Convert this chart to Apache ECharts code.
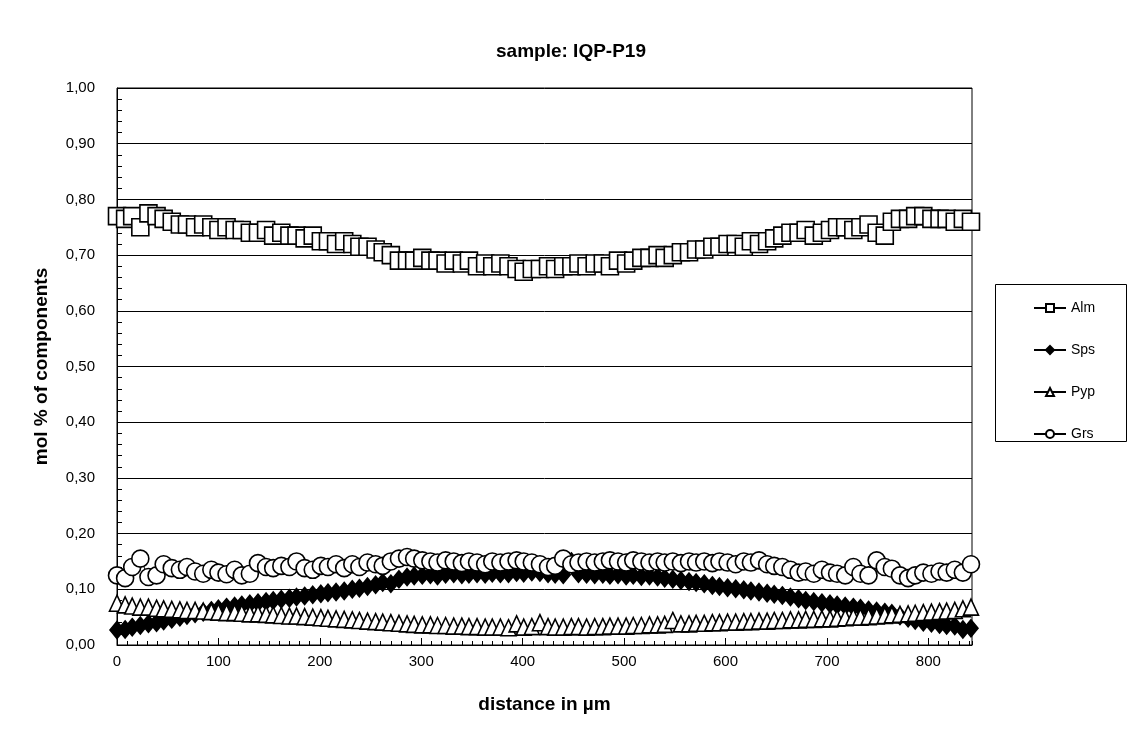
<!DOCTYPE html>
<html>
<head>
<meta charset="utf-8">
<script src="https://cdn.jsdelivr.net/npm/echarts@6/dist/echarts.min.js"></script>
<style>
html,body{margin:0;padding:0;background:#fff;}
#chart{width:1128px;height:733px;}
</style>
</head>
<body>
<div id="chart"></div>
<script>
const seriesNames = ['Alm', 'Sps', 'Pyp', 'Grs'];

const distance = [
  0, 8, 15, 23, 31, 39, 46, 54, 62, 69,
  77, 85, 93, 100, 108, 116, 123, 131, 139, 147,
  154, 162, 170, 177, 185, 193, 201, 208, 216, 224,
  232, 239, 247, 255, 262, 270, 278, 286, 293, 301,
  309, 316, 324, 332, 340, 347, 355, 363, 370, 378,
  386, 394, 401, 409, 417, 425, 432, 440, 448, 455,
  463, 471, 479, 486, 494, 502, 509, 517, 525, 533,
  540, 548, 556, 564, 571, 579, 587, 594, 602, 610,
  618, 625, 633, 641, 648, 656, 664, 672, 679, 687,
  695, 703, 710, 718, 726, 733, 741, 749, 757, 764,
  772, 780, 787, 795, 803, 811, 818, 826, 834, 842
];

const alm = [
  0.770, 0.765, 0.770, 0.750, 0.775, 0.770, 0.765, 0.760, 0.755, 0.755,
  0.750, 0.755, 0.750, 0.745, 0.750, 0.745, 0.745, 0.740, 0.740, 0.745,
  0.735, 0.740, 0.735, 0.735, 0.730, 0.735, 0.725, 0.725, 0.720, 0.725,
  0.720, 0.715, 0.715, 0.710, 0.705, 0.700, 0.690, 0.690, 0.690, 0.695,
  0.690, 0.690, 0.685, 0.690, 0.685, 0.690, 0.680, 0.685, 0.680, 0.685,
  0.680, 0.675, 0.670, 0.675, 0.675, 0.680, 0.675, 0.680, 0.680, 0.685,
  0.680, 0.685, 0.685, 0.680, 0.690, 0.685, 0.690, 0.695, 0.695, 0.700,
  0.695, 0.700, 0.705, 0.705, 0.710, 0.710, 0.715, 0.715, 0.720, 0.720,
  0.715, 0.725, 0.720, 0.725, 0.730, 0.735, 0.740, 0.740, 0.745, 0.735,
  0.740, 0.745, 0.750, 0.750, 0.745, 0.750, 0.755, 0.740, 0.735, 0.760,
  0.765, 0.765, 0.770, 0.770, 0.765, 0.765, 0.765, 0.760, 0.765, 0.760
];

const sps = [
  0.027, 0.028, 0.032, 0.035, 0.038, 0.040, 0.043, 0.046, 0.050, 0.053,
  0.056, 0.059, 0.062, 0.065, 0.068, 0.070, 0.072, 0.074, 0.076, 0.078,
  0.080, 0.082, 0.084, 0.086, 0.088, 0.090, 0.092, 0.094, 0.095, 0.097,
  0.100, 0.102, 0.105, 0.108, 0.112, 0.110, 0.118, 0.122, 0.124, 0.125,
  0.126, 0.124, 0.127, 0.128, 0.126, 0.127, 0.128, 0.127, 0.129, 0.128,
  0.128, 0.130, 0.129, 0.131, 0.130, 0.128, 0.127, 0.126, 0.150, 0.128,
  0.127, 0.126, 0.127, 0.125, 0.126, 0.124, 0.125, 0.123, 0.124, 0.122,
  0.120, 0.118, 0.116, 0.114, 0.112, 0.110, 0.107, 0.105, 0.103, 0.101,
  0.099, 0.097, 0.095, 0.093, 0.091, 0.089, 0.086, 0.083, 0.080, 0.078,
  0.076, 0.074, 0.072, 0.070, 0.068, 0.066, 0.063, 0.061, 0.059, 0.057,
  0.052, 0.048, 0.044, 0.041, 0.039, 0.037, 0.035, 0.034, 0.028, 0.030
];

const pyp = [
  0.075, 0.072, 0.070, 0.068, 0.068, 0.066, 0.065, 0.064, 0.063, 0.062,
  0.062, 0.061, 0.060, 0.059, 0.058, 0.058, 0.057, 0.056, 0.056, 0.055,
  0.054, 0.053, 0.052, 0.052, 0.051, 0.050, 0.049, 0.048, 0.047, 0.046,
  0.045, 0.044, 0.043, 0.042, 0.041, 0.040, 0.039, 0.038, 0.037, 0.036,
  0.036, 0.035, 0.035, 0.034, 0.034, 0.033, 0.033, 0.032, 0.032, 0.032,
  0.031, 0.038, 0.032, 0.033, 0.040, 0.033, 0.032, 0.032, 0.033, 0.033,
  0.032, 0.033, 0.033, 0.034, 0.034, 0.034, 0.035, 0.035, 0.036, 0.036,
  0.037, 0.044, 0.038, 0.038, 0.039, 0.039, 0.040, 0.040, 0.041, 0.041,
  0.042, 0.042, 0.043, 0.043, 0.044, 0.044, 0.045, 0.045, 0.046, 0.046,
  0.047, 0.047, 0.048, 0.049, 0.050, 0.050, 0.051, 0.052, 0.053, 0.054,
  0.055, 0.056, 0.057, 0.058, 0.059, 0.060, 0.061, 0.062, 0.065, 0.068
];

const grs = [
  0.125, 0.120, 0.140, 0.155, 0.122, 0.125, 0.145, 0.138, 0.135, 0.140,
  0.132, 0.128, 0.135, 0.130, 0.127, 0.135, 0.125, 0.128, 0.147, 0.140,
  0.138, 0.142, 0.140, 0.150, 0.138, 0.135, 0.142, 0.140, 0.145, 0.138,
  0.145, 0.140, 0.148, 0.145, 0.142, 0.150, 0.155, 0.158, 0.155, 0.152,
  0.150, 0.148, 0.152, 0.150, 0.147, 0.150, 0.148, 0.145, 0.150, 0.148,
  0.150, 0.152, 0.150, 0.148, 0.145, 0.140, 0.142, 0.155, 0.145, 0.148,
  0.150, 0.148, 0.150, 0.152, 0.150, 0.148, 0.152, 0.150, 0.148, 0.150,
  0.148, 0.150, 0.147, 0.150, 0.148, 0.150, 0.147, 0.150, 0.148, 0.145,
  0.150, 0.148, 0.152, 0.145, 0.142, 0.140, 0.135, 0.130, 0.132, 0.128,
  0.135, 0.130, 0.128, 0.125, 0.140, 0.128, 0.125, 0.152, 0.140, 0.137,
  0.125, 0.120, 0.125, 0.130, 0.128, 0.132, 0.130, 0.135, 0.130, 0.145
];

const FONT = '"Liberation Sans", Arial, sans-serif';
const chart = echarts.init(document.getElementById('chart'), null, {renderer: 'canvas'});

function pairs(vals) { return distance.map((d, i) => [d, vals[i]]); }

const markerStyles = {
  Alm: {symbol: 'rect', symbolSize: 17, color: '#fff'},
  Sps: {symbol: 'diamond', symbolSize: [14, 17], color: '#000'},
  Pyp: {symbol: 'triangle', symbolSize: [15, 16], color: '#fff'},
  Grs: {symbol: 'circle', symbolSize: 17, color: '#fff'}
};
const valuesByName = {Alm: alm, Sps: sps, Pyp: pyp, Grs: grs};

const option = {
  animation: false,
  backgroundColor: '#fff',
  title: {
    text: 'sample: IQP-P19',
    left: 566, top: 37, textAlign: 'center',
    textStyle: {fontFamily: FONT, fontSize: 19, fontWeight: 'bold', color: '#000'}
  },
  grid: {left: 117, top: 88, width: 855, height: 557, show: true, borderColor: '#000', borderWidth: 1, backgroundColor: 'transparent'},
  legend: {
    data: seriesNames,
    orient: 'vertical',
    left: 1028, top: 296,
    itemWidth: 32, itemHeight: 10, itemGap: 28,
    textStyle: {fontFamily: FONT, fontSize: 14, color: '#000'}
  },
  graphic: [{
    type: 'rect', shape: {x: 995.5, y: 284.5, width: 131, height: 157},
    style: {fill: 'none', stroke: '#000', lineWidth: 1}, z: 100
  }],
  xAxis: [{
    type: 'value', min: 0, max: 843, interval: 100,
    name: 'distance in µm', nameLocation: 'middle', nameGap: 50,
    nameTextStyle: {fontFamily: FONT, fontSize: 19, fontWeight: 'bold', color: '#000'},
    axisLine: {show: true, lineStyle: {color: '#000', width: 1}},
    axisTick: {show: true, inside: true, length: 7, lineStyle: {color: '#000'}},
    axisLabel: {show: true, margin: 9, color: '#000', fontFamily: FONT, fontSize: 15,
      showMaxLabel: false,
      formatter: v => (v % 100 === 0 ? String(v) : '')},
    splitLine: {show: false}
  }, {
    type: 'value', min: 0, max: 843, interval: 10, position: 'bottom',
    axisLine: {show: false},
    axisTick: {show: true, inside: true, length: 4, lineStyle: {color: '#000'}},
    axisLabel: {show: false},
    splitLine: {show: false}
  }],
  yAxis: {
    type: 'value', min: 0, max: 1, interval: 0.1,
    name: 'mol % of components', nameLocation: 'middle', nameGap: 66, nameRotate: 90,
    nameTextStyle: {fontFamily: FONT, fontSize: 19, fontWeight: 'bold', color: '#000'},
    axisLine: {show: true, lineStyle: {color: '#000', width: 1}},
    axisTick: {show: true, inside: true, length: 6, lineStyle: {color: '#000'}},
    minorTick: {show: true, splitNumber: 5, length: 5, lineStyle: {color: '#000'}},
    axisLabel: {margin: 22, color: '#000', fontFamily: FONT, fontSize: 15,
      formatter: v => v.toFixed(2).replace('.', ',')},
    splitLine: {show: true, lineStyle: {color: '#000', width: 1}}
  },
  series: seriesNames.map(name => ({
    name: name, type: 'line', xAxisIndex: 0,
    data: pairs(valuesByName[name]),
    symbol: markerStyles[name].symbol,
    symbolSize: markerStyles[name].symbolSize,
    showAllSymbol: true,
    lineStyle: {color: '#000', width: 1},
    itemStyle: {color: markerStyles[name].color, borderColor: '#000', borderWidth: 1.6}
  }))
};
chart.setOption(option);
</script>
</body>
</html>
